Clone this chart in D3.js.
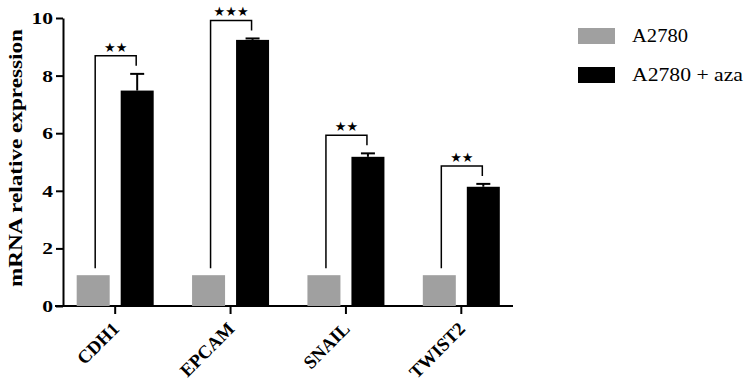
<!DOCTYPE html>
<html>
<head>
<meta charset="utf-8">
<script src="https://cdn.jsdelivr.net/npm/d3@7"></script>
<style>
  body { margin: 0; background: #fff; }
  svg { display: block; }
</style>
</head>
<body>
<div id="okvir"></div>
<script>
// podaci ocitani sa slike
const genes = ["CDH1", "EPCAM", "SNAIL", "TWIST2"];
const groups = ["A2780", "A2780 + aza"];
const controlVals = [1.07, 1.07, 1.07, 1.07];
const azaVals = [7.48, 9.24, 5.18, 4.14];
const azaErr = [0.58, 0.05, 0.12, 0.10];
const starCounts = [2, 3, 2, 2];
const yTicks = [0, 2, 4, 6, 8, 10];
const groupColors = ["#a0a0a0", "#000000"];

function crtaj() {
    var width = 749, height = 383;
    var serif = "'Liberation Serif', 'Times New Roman', serif";

    var svg = d3.select("#okvir").append("svg")
        .attr("width", width)
        .attr("height", height);

    var y = d3.scaleLinear().domain([0, 10]).range([306, 18]);
    var x = d3.scaleBand().domain(genes).range([57.5, 519]).padding(0);
    var sub = d3.scaleBand().domain(groups).range([-38.5, 38.5]).paddingInner(0.25);
    var center = g => x(g) + x.bandwidth() / 2;

    // y os
    var yAxis = svg.append("g")
        .attr("transform", "translate(63,0)")
        .call(d3.axisLeft(y).tickValues(yTicks).tickSize(7).tickSizeOuter(0).tickPadding(3));
    yAxis.select(".domain").attr("stroke-width", 2);
    yAxis.selectAll(".tick line").attr("stroke-width", 2);
    yAxis.selectAll("text")
        .attr("textLength", d => String(d).length * 10.8)
        .attr("lengthAdjust", "spacingAndGlyphs")
        .style("font-family", serif)
        .style("font-weight", "bold")
        .style("font-size", "17px");

    // x os
    var xAxis = svg.append("g")
        .attr("transform", "translate(0,306)")
        .call(d3.axisBottom(x).tickSize(8).tickFormat(""));
    xAxis.select(".domain").remove();
    xAxis.selectAll(".tick line").attr("stroke-width", 2);
    svg.append("line")
        .attr("x1", 55).attr("x2", 513)
        .attr("y1", 306).attr("y2", 306)
        .attr("stroke", "#000").attr("stroke-width", 2);

    // oznake kategorija (zakrenute)
    svg.append("g").selectAll("text")
        .data(genes)
        .enter()
        .append("text")
        .attr("transform", d => "translate(" + (center(d) + 5) + ",330) rotate(-45)")
        .attr("text-anchor", "end")
        .style("font-family", serif)
        .style("font-weight", "bold")
        .style("font-size", "18.5px")
        .text(d => d);

    // naslov y osi
    svg.append("text")
        .attr("transform", "translate(22,158) rotate(-90)")
        .attr("text-anchor", "middle")
        .attr("textLength", 258)
        .attr("lengthAdjust", "spacingAndGlyphs")
        .style("font-family", serif)
        .style("font-weight", "bold")
        .style("font-size", "19px")
        .text("mRNA relative expression");

    // stupci
    svg.append("g").selectAll("rect")
        .data(genes)
        .enter()
        .append("rect")
        .attr("x", d => center(d) + sub(groups[0]))
        .attr("y", (d, i) => y(controlVals[i]))
        .attr("width", sub.bandwidth())
        .attr("height", (d, i) => y(0) - y(controlVals[i]))
        .attr("fill", groupColors[0]);

    svg.append("g").selectAll("rect")
        .data(genes)
        .enter()
        .append("rect")
        .attr("x", d => center(d) + sub(groups[1]))
        .attr("y", (d, i) => y(azaVals[i]))
        .attr("width", sub.bandwidth())
        .attr("height", (d, i) => y(0) - y(azaVals[i]))
        .attr("fill", groupColors[1]);

    // error barovi
    var err = svg.append("g").attr("stroke", "#000").attr("stroke-width", 2);
    genes.forEach(function (g, i) {
        var cx = center(g) + sub(groups[1]) + sub.bandwidth() / 2;
        err.append("line")
            .attr("x1", cx).attr("x2", cx)
            .attr("y1", y(azaVals[i])).attr("y2", y(azaVals[i] + azaErr[i]));
        err.append("line")
            .attr("x1", cx - 7).attr("x2", cx + 7)
            .attr("y1", y(azaVals[i] + azaErr[i])).attr("y2", y(azaVals[i] + azaErr[i]));
    });

    // oznake znacajnosti
    var sig = svg.append("g");
    genes.forEach(function (g, i) {
        var lx = center(g) + sub(groups[0]) + sub.bandwidth() / 2 + 2;
        var rx = center(g) + sub(groups[1]) + sub.bandwidth() / 2 - 1;
        var top = y(azaVals[i] + azaErr[i]) - 18;
        sig.append("path")
            .attr("d", "M" + lx + "," + (y(controlVals[i]) - 7) + "V" + top + "H" + rx + "V" + (top + 10))
            .attr("fill", "none")
            .attr("stroke", "#000")
            .attr("stroke-width", 1.5);
        sig.append("text")
            .attr("x", (lx + rx) / 2)
            .attr("y", top - 4)
            .attr("text-anchor", "middle")
            .style("font-family", "'DejaVu Sans', sans-serif")
            .style("font-size", "13px")
            .text("★".repeat(starCounts[i]));
    });

    // legenda
    var legendLen = [56, 111];
    var legend = svg.append("g").selectAll("g")
        .data(groups)
        .enter()
        .append("g")
        .attr("transform", (d, i) => "translate(578," + (28 + i * 39) + ")");
    legend.append("rect")
        .attr("width", 37)
        .attr("height", 16)
        .attr("fill", (d, i) => groupColors[i]);
    legend.append("text")
        .attr("x", 54)
        .attr("y", 14)
        .attr("textLength", (d, i) => legendLen[i])
        .attr("lengthAdjust", "spacingAndGlyphs")
        .style("font-family", serif)
        .style("font-size", "18px")
        .text(d => d);
}
crtaj();
</script>
</body>
</html>
